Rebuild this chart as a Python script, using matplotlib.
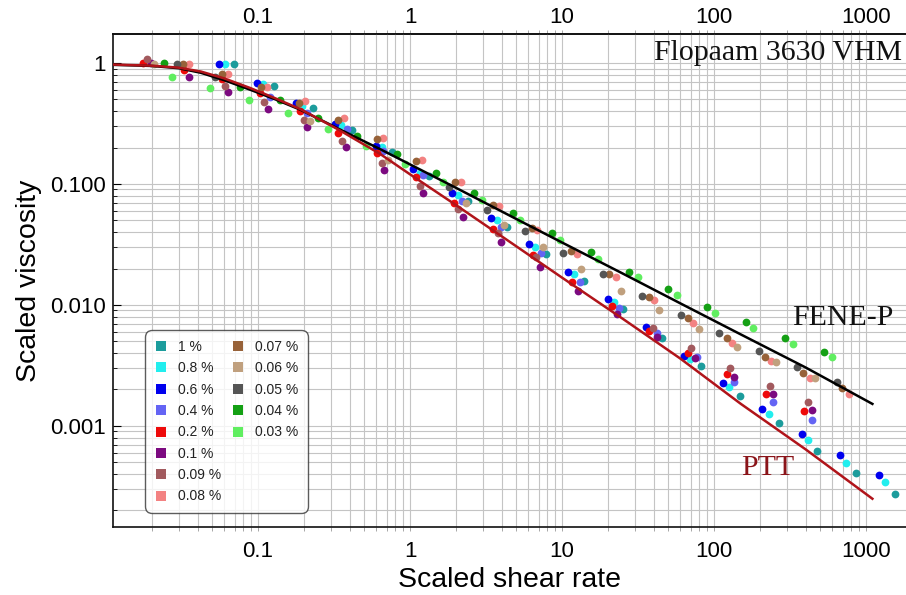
import matplotlib
matplotlib.use("Agg")
import matplotlib.pyplot as plt
from matplotlib.lines import Line2D
from matplotlib.ticker import FixedLocator, FixedFormatter, LogLocator, NullFormatter

# ---- measured flow curves (scaled shear rate, scaled viscosity) ----
rate_1p00 = [0.0698, 0.127, 0.229, 0.413, 0.758, 1.33, 2.42, 4.33, 7.81, 14.0, 25.3, 45.3, 82.1, 148, 268, 478, 859, 1552]
visc_1p00 = [0.976, 0.649, 0.427, 0.279, 0.183, 0.116, 0.0728, 0.0439, 0.0264, 0.0158, 0.00927, 0.00531, 0.00313, 0.00178, 0.00105, 0.000625, 0.000406, 0.000274]

rate_0p80 = [0.0607, 0.107, 0.194, 0.350, 0.651, 1.16, 2.06, 3.72, 6.64, 11.9, 21.8, 69.5, 126, 228, 413, 738, 1334]
visc_0p80 = [0.976, 0.671, 0.441, 0.307, 0.201, 0.124, 0.0811, 0.0504, 0.0300, 0.0179, 0.01065, 0.00356, 0.00209, 0.00125, 0.000766, 0.000497, 0.000343]

rate_0p60 = [0.0554, 0.0989, 0.177, 0.321, 0.595, 1.05, 1.88, 3.40, 6.09, 10.9, 20.0, 35.7, 63.8, 115, 208, 378, 675, 1218]
visc_0p60 = [0.976, 0.680, 0.470, 0.311, 0.206, 0.133, 0.0848, 0.0521, 0.0318, 0.0188, 0.0111, 0.00654, 0.00381, 0.00228, 0.00138, 0.000859, 0.000575, 0.000394]

rate_0p40 = [0.120, 0.209, 0.383, 0.667, 1.22, 2.19, 3.95, 7.24, 13.1, 23.5, 42.0, 77.3, 136, 243, 439]
visc_0p40 = [0.527, 0.384, 0.283, 0.188, 0.119, 0.0724, 0.0444, 0.0267, 0.0156, 0.00939, 0.00583, 0.00372, 0.00232, 0.00157, 0.00111]

rate_0p20 = [0.0176, 0.0327, 0.0582, 0.103, 0.189, 0.337, 0.609, 1.10, 1.95, 3.53, 6.41, 11.6, 21.2, 37.5, 67.1, 121, 219, 393]
visc_0p20 = [0.994, 0.875, 0.733, 0.568, 0.401, 0.265, 0.181, 0.115, 0.0700, 0.0425, 0.0259, 0.0154, 0.00981, 0.00610, 0.00399, 0.00268, 0.00183, 0.00134]

rate_0p10 = [0.0198, 0.0353, 0.0638, 0.117, 0.209, 0.378, 0.678, 1.21, 2.22, 3.97, 7.17, 12.8, 22.9, 42.0, 75.0, 136, 243, 439]
visc_0p10 = [0.994, 0.762, 0.579, 0.414, 0.298, 0.201, 0.1305, 0.0848, 0.0531, 0.0334, 0.0207, 0.0131, 0.00838, 0.00541, 0.00363, 0.00256, 0.00183, 0.00136]

rate_0p09 = [0.0187, 0.0607, 0.1095, 0.199, 0.356, 0.651, 1.16, 2.08, 3.78, 6.74, 39.5, 70.6, 127, 234, 417]
visc_0p09 = [1.073, 0.645, 0.479, 0.338, 0.227, 0.148, 0.0963, 0.0618, 0.0392, 0.0248, 0.00649, 0.00439, 0.00300, 0.00215, 0.00157]

rate_0p08 = [0.0353, 0.0632, 0.114, 0.204, 0.368, 0.661, 1.19, 2.16, 3.87, 6.88, 12.5, 22.6, 40.5, 73.1, 132, 237, 428, 773]
visc_0p08 = [0.976, 0.811, 0.637, 0.488, 0.349, 0.239, 0.158, 0.103, 0.0658, 0.0417, 0.0264, 0.0171, 0.0109, 0.00715, 0.00488, 0.00344, 0.00248, 0.00183]

rate_0p07 = [0.0320, 0.0577, 0.104, 0.187, 0.333, 0.604, 1.10, 1.98, 3.53, 6.32, 11.4, 20.5, 37.4, 67.1, 121, 217, 387, 698]
visc_0p07 = [0.976, 0.807, 0.630, 0.470, 0.338, 0.234, 0.156, 0.103, 0.0670, 0.0435, 0.0279, 0.0179, 0.0117, 0.00785, 0.00531, 0.00374, 0.00273, 0.00205]

rate_0p06 = [0.0207, 0.218, 0.717, 2.34, 4.15, 7.46, 13.3, 24.3, 43.6, 79.6, 141, 255, 462]
visc_0p06 = [0.976, 0.334, 0.158, 0.0692, 0.0458, 0.0303, 0.0197, 0.0131, 0.00909, 0.00630, 0.00452, 0.00336, 0.00251]

rate_0p05 = [0.0292, 0.0521, 1.79, 3.20, 5.71, 10.2, 18.7, 33.6, 60.7, 108, 196, 353, 641]
visc_0p05 = [0.976, 0.770, 0.0950, 0.0610, 0.0411, 0.0267, 0.0179, 0.0119, 0.00827, 0.00583, 0.00419, 0.00306, 0.00230]

rate_0p04 = [0.0241, 0.0762, 0.1396, 0.249, 0.450, 0.818, 1.48, 2.65, 4.74, 8.55, 15.5, 27.7, 50.0, 90.3, 162, 293, 527]
visc_0p04 = [0.994, 0.637, 0.495, 0.349, 0.251, 0.177, 0.1226, 0.0838, 0.0579, 0.0392, 0.0273, 0.0186, 0.0135, 0.00962, 0.00719, 0.00534, 0.00407]

rate_0p03 = [0.0271, 0.0483, 0.0873, 0.157, 0.287, 0.514, 0.927, 1.64, 2.96, 5.29, 9.70, 17.3, 31.4, 56.7, 102, 181, 330, 595]
visc_0p03 = [0.770, 0.625, 0.495, 0.384, 0.283, 0.206, 0.146, 0.1045, 0.0738, 0.0504, 0.0345, 0.0239, 0.0171, 0.0121, 0.00863, 0.00642, 0.00476, 0.00370]

concentrations = ["1 %", "0.8 %", "0.6 %", "0.4 %", "0.2 %", "0.1 %", "0.09 %",
                  "0.08 %", "0.07 %", "0.06 %", "0.05 %", "0.04 %", "0.03 %"]
series_rates = [rate_1p00, rate_0p80, rate_0p60, rate_0p40, rate_0p20, rate_0p10, rate_0p09,
                rate_0p08, rate_0p07, rate_0p06, rate_0p05, rate_0p04, rate_0p03]
series_visc = [visc_1p00, visc_0p80, visc_0p60, visc_0p40, visc_0p20, visc_0p10, visc_0p09,
               visc_0p08, visc_0p07, visc_0p06, visc_0p05, visc_0p04, visc_0p03]
colors = ["#1c9c9c", "#22eeee", "#0000ee", "#6464f4", "#ee0a0a", "#7c0a80", "#a25a5e",
          "#f38282", "#976239", "#c0a07e", "#555555", "#14a014", "#60ee60"]

# ---- model curves ----
model_rate = [0.0111, 0.02, 0.03, 0.042, 0.06, 0.089, 0.13, 0.19, 0.34, 0.635, 1.0, 2.0,
              5.0, 10.0, 25.0, 60.0, 150.0, 400.0, 1100.0]
fene_p_visc = [0.965, 0.945, 0.905, 0.83, 0.72, 0.60, 0.50, 0.41, 0.285, 0.194, 0.145, 0.093,
               0.0513, 0.0328, 0.0182, 0.0103, 0.0057, 0.00304, 0.00152]
ptt_visc = [0.97, 0.95, 0.915, 0.85, 0.745, 0.62, 0.51, 0.415, 0.28, 0.177, 0.12, 0.067,
            0.0305, 0.0168, 0.0077, 0.0036, 0.00152, 0.00064, 0.00025]

x_ticks = [0.1, 1, 10, 100, 1000]
x_ticklabels = ["0.1", "1", "10", "100", "1000"]
y_ticks = [1, 0.1, 0.01, 0.001]
y_ticklabels = ["1", "0.100", "0.010", "0.001"]

SANS = ["Liberation Sans", "DejaVu Sans"]
SERIF = ["Liberation Serif", "DejaVu Serif"]
plt.rcParams["font.family"] = SANS

W, H = 906, 595
fig = plt.figure(figsize=(W / 100, H / 100), dpi=100)
ax = fig.add_axes([113 / W, 1 - 527 / H, (906 - 113) / W, (527 - 34) / H])
ax.set_xscale("log")
ax.set_yscale("log")
ax.set_xlim(0.0111, 1830)
ax.set_ylim(1.46e-4, 1.736)

# grid on every decade subdivision
ax.xaxis.set_minor_locator(LogLocator(base=10, subs=range(2, 10), numticks=20))
ax.yaxis.set_minor_locator(LogLocator(base=10, subs=range(2, 10), numticks=20))
ax.xaxis.set_minor_formatter(NullFormatter())
ax.yaxis.set_minor_formatter(NullFormatter())
ax.grid(True, which="both", color="#c4c4c4", linewidth=0.8)
ax.set_axisbelow(True)

ax.xaxis.set_major_locator(FixedLocator(x_ticks))
ax.xaxis.set_major_formatter(FixedFormatter(x_ticklabels))
ax.yaxis.set_major_locator(FixedLocator(y_ticks))
ax.yaxis.set_major_formatter(FixedFormatter(y_ticklabels))
ax.tick_params(axis="x", which="both", direction="out", top=False, labeltop=False,
               length=3, width=0.6, color="#999999", labelsize=16, pad=7)
ax.tick_params(axis="y", which="major", direction="in", length=6, width=0.8,
               labelsize=16, pad=5)
ax.tick_params(axis="y", which="minor", direction="in", length=3, width=0.6)

# duplicate decade labels along the top edge
top = ax.secondary_xaxis("top")
top.xaxis.set_major_locator(FixedLocator(x_ticks))
top.xaxis.set_major_formatter(FixedFormatter(x_ticklabels))
top.xaxis.set_minor_locator(LogLocator(base=10, subs=range(2, 10), numticks=20))
top.xaxis.set_minor_formatter(NullFormatter())
top.tick_params(axis="x", which="both", direction="out", length=3, width=0.6,
                color="#999999", labelsize=16, pad=1)
top.spines["top"].set_linewidth(1.2)
top.spines["top"].set_color("#111111")

for side in ("left", "bottom", "top"):
    ax.spines[side].set_linewidth(1.2)
    ax.spines[side].set_color("#111111")
ax.spines["right"].set_visible(False)

for rates, visc, col in zip(series_rates, series_visc, colors):
    ax.plot(rates, visc, linestyle="none", marker="o", markersize=5.6,
            markeredgewidth=0, color=col, zorder=3)

ax.plot(model_rate, fene_p_visc, color="black", linewidth=1.8, zorder=4)
ax.plot(model_rate, ptt_visc, color="#b0141a", linewidth=1.8, zorder=4)

ax.set_xlabel("Scaled shear rate", fontsize=20.5, labelpad=4)
ax.set_ylabel("Scaled viscosity", fontsize=20.5, labelpad=6)

ax.text(0.995, 0.962, "Flopaam 3630 VHM", transform=ax.transAxes, ha="right",
        va="center", fontsize=21.5, family=SERIF, color="#111111")
fig.text(843 / W, 1 - 318 / H, "FENE-P", fontsize=21.5, family=SERIF,
         ha="center", va="center", color="#111111")
fig.text(768 / W, 1 - 468 / H, "PTT", fontsize=21.5, family=SERIF,
         ha="center", va="center", color="#8a1419")

# legend: eight entries in the first column, five in the second
handles = [Line2D([], [], linestyle="none", marker="s", markersize=6.5,
                  markeredgewidth=0, color=c) for c in colors]
labels = list(concentrations)
blank = Line2D([], [], linestyle="none")
handles = handles + [blank] * 3
labels = labels + [""] * 3
leg = fig.legend(handles, labels, ncol=2, loc="upper left",
                 bbox_to_anchor=(147.5 / W, 1 - 333 / H), fontsize=10,
                 frameon=True, fancybox=True, handlelength=1.0, handletextpad=0.7,
                 borderpad=0.5, labelspacing=0.53, columnspacing=0.7,
                 borderaxespad=0)
leg.get_frame().set_edgecolor("#333333")
leg.get_frame().set_linewidth(1.0)
leg.get_frame().set_boxstyle("round,pad=0.2,rounding_size=0.5")
for txt in leg.get_texts():
    txt.set_color("#222222")

fig.savefig("out.png", dpi=100)
